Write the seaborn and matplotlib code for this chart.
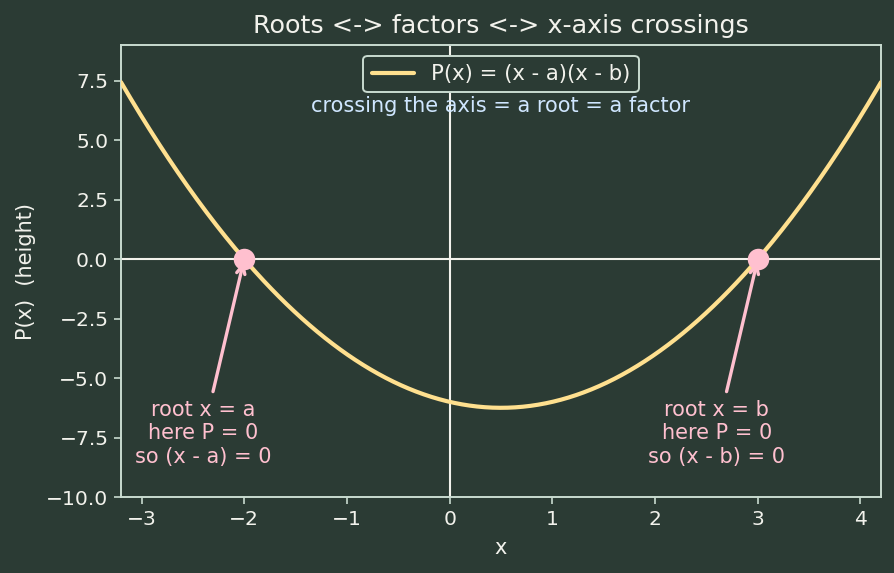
import numpy as np
import pandas as pd
import matplotlib
matplotlib.use("Agg")
import matplotlib.pyplot as plt
import seaborn as sns

# Data
root_a = -2.0
root_b = 3.0
x_min, x_max = -3.2, 4.2
y_min, y_max = -10.0, 9.0
roots_x = [root_a, root_b]
roots_y = [0.0, 0.0]
labels = ["root x = a\nhere P = 0\nso (x - a) = 0",
          "root x = b\nhere P = 0\nso (x - b) = 0"]
label_pos_x = [-2.4, 2.6]
label_pos_y = [-7.33, -7.33]

xs = np.linspace(x_min, x_max, 400)
curve = pd.DataFrame({"x": xs, "P": (xs - root_a) * (xs - root_b)})
pts = pd.DataFrame({"x": roots_x, "P": roots_y})

BG = "#2b3b34"
FG = "#f2f2ec"
SPINE = "#c9dbd0"
CURVE = "#ffe08f"
PINK = "#ffc0cf"
BLUE = "#cfe6ff"

sns.set_theme(style="dark")
plt.rcParams["font.family"] = ["DejaVu Sans"]

fig, ax = plt.subplots(figsize=(8.94, 5.73), dpi=100)
fig.patch.set_facecolor(BG)
ax.set_facecolor(BG)

ax.axhline(0, color=FG, lw=1.5, zorder=1)
ax.axvline(0, color=FG, lw=1.5, zorder=1)

sns.lineplot(data=curve, x="x", y="P", ax=ax, color=CURVE, lw=3,
             label="P(x) = (x - a)(x - b)", zorder=3)
sns.scatterplot(data=pts, x="x", y="P", ax=ax, color=PINK, s=240,
                linewidth=0, zorder=4, legend=False)

for rx, ry, lab, tx, ty in zip(roots_x, roots_y, labels, label_pos_x, label_pos_y):
    ax.annotate(lab, xy=(rx, ry), xytext=(tx, ty), ha="center", va="center",
                color=PINK, fontsize=15, linespacing=1.2,
                arrowprops=dict(arrowstyle="->", color=PINK, lw=2.4,
                                shrinkA=4, shrinkB=2), zorder=5)

ax.text(0.5, 0.866, "crossing the axis = a root = a factor", transform=ax.transAxes,
        ha="center", va="center", color=BLUE, fontsize=15)

ax.set_xlim(x_min, x_max)
ax.set_ylim(y_min, y_max)
ax.set_yticks([-10, -7.5, -5, -2.5, 0, 2.5, 5, 7.5])
ax.set_xticks([-3, -2, -1, 0, 1, 2, 3, 4])
ax.set_title("Roots <-> factors <-> x-axis crossings", color=FG, fontsize=18.3, pad=8.5)
ax.set_xlabel("x", color=FG, fontsize=15, labelpad=7)
ax.set_ylabel("P(x)  (height)", color=FG, fontsize=15, labelpad=7)
ax.tick_params(colors=FG, labelsize=14.6, length=5, width=1.2, bottom=True, left=True, pad=4)
ax.tick_params(axis="both", color=SPINE)
for s in ax.spines.values():
    s.set_color(SPINE)
    s.set_linewidth(1.4)
    s.set_visible(True)
ax.grid(False)

leg = ax.legend(loc="upper center", fontsize=15.2, frameon=True, facecolor=BG,
                edgecolor=SPINE, labelcolor=FG, borderaxespad=0.5)
leg.get_frame().set_alpha(1)
leg.get_frame().set_linewidth(1.4)

fig.subplots_adjust(left=0.1353, right=0.9855, top=0.9215, bottom=0.1326)
fig.savefig("out.png", dpi=100, facecolor=BG)
